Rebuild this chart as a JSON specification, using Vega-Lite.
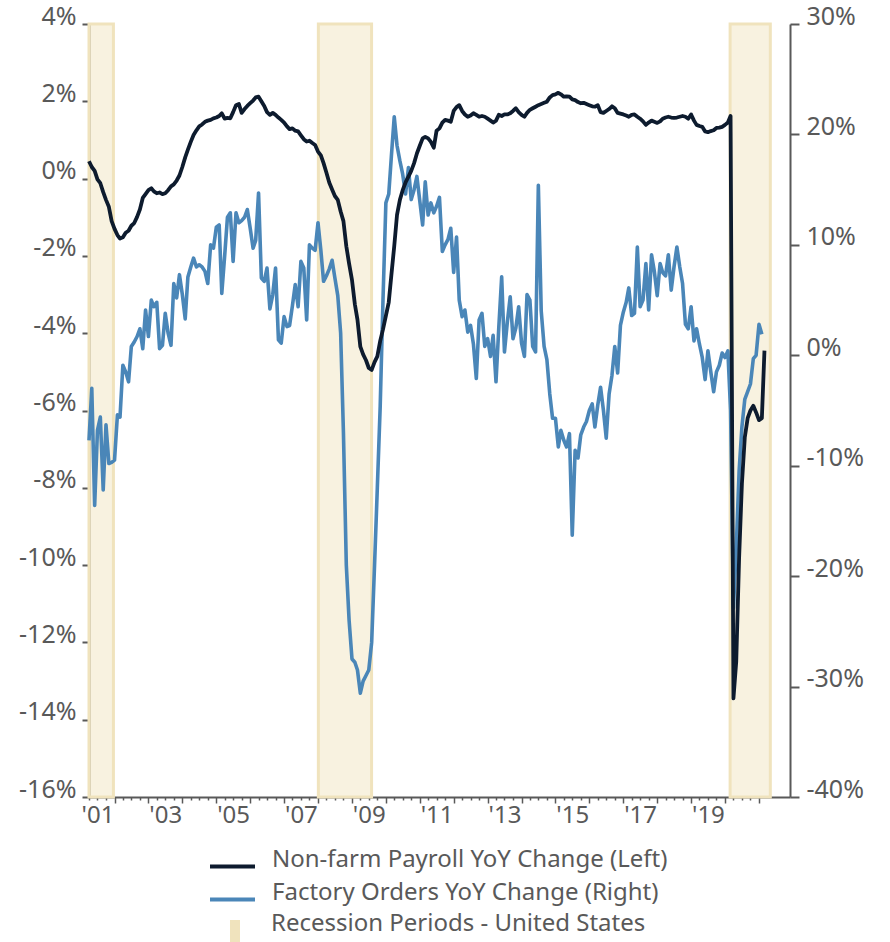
{
  "$schema": "https://vega.github.io/schema/vega-lite/v6.json",
  "width": 701,
  "height": 773,
  "autosize": {"type": "none"},
  "padding": {"left": 89, "top": 24, "right": 100, "bottom": 145},
  "background": "white",
  "config": {
    "view": {"stroke": null},
    "font": "Noto Sans",
    "axis": {"grid": false, "labelFont": "Noto Sans", "labelFontSize": 25, "labelColor": "#595959", "domainColor": "#595959", "domainWidth": 2, "tickColor": "#595959", "tickWidth": 2, "title": null},
    "legend": {"labelFont": "Noto Sans", "labelFontSize": 24, "labelColor": "#595959", "padding": 0, "title": null, "labelBaseline": "alphabetic", "direction": "vertical", "labelLimit": 0}
  },
  "datasets": {
    "rec": [
      {"date": "2001-04-01", "end": "2001-12-20", "label": "Recession Periods - United States"},
      {"date": "2008-01-05", "end": "2009-07-31", "label": "Recession Periods - United States"},
      {"date": "2020-02-25", "end": "2021-05-03", "label": "Recession Periods - United States"}
    ],
    "main": [
      {"date": "2001-04-01", "p": 0.45, "f": -7.7},
      {"date": "2001-05-01", "p": 0.30, "f": -3.0},
      {"date": "2001-06-01", "p": 0.20, "f": -13.6},
      {"date": "2001-07-01", "p": -0.02, "f": -6.8},
      {"date": "2001-08-01", "p": -0.12, "f": -5.6},
      {"date": "2001-09-01", "p": -0.35, "f": -12.2},
      {"date": "2001-10-01", "p": -0.55, "f": -6.3},
      {"date": "2001-11-01", "p": -0.73, "f": -9.8},
      {"date": "2001-12-01", "p": -1.10, "f": -9.7},
      {"date": "2002-01-01", "p": -1.30, "f": -9.5},
      {"date": "2002-02-01", "p": -1.46, "f": -5.4},
      {"date": "2002-03-01", "p": -1.55, "f": -5.6},
      {"date": "2002-04-01", "p": -1.52, "f": -0.9},
      {"date": "2002-05-01", "p": -1.40, "f": -1.5},
      {"date": "2002-06-01", "p": -1.35, "f": -2.4},
      {"date": "2002-07-01", "p": -1.22, "f": 0.8},
      {"date": "2002-08-01", "p": -1.15, "f": 1.2},
      {"date": "2002-09-01", "p": -0.99, "f": 1.7},
      {"date": "2002-10-01", "p": -0.80, "f": 2.4},
      {"date": "2002-11-01", "p": -0.50, "f": 0.6},
      {"date": "2002-12-01", "p": -0.40, "f": 4.1},
      {"date": "2003-01-01", "p": -0.30, "f": 1.7},
      {"date": "2003-02-01", "p": -0.25, "f": 5.0},
      {"date": "2003-03-01", "p": -0.33, "f": 4.4},
      {"date": "2003-04-01", "p": -0.38, "f": 4.8},
      {"date": "2003-05-01", "p": -0.36, "f": 0.6},
      {"date": "2003-06-01", "p": -0.40, "f": 0.9},
      {"date": "2003-07-01", "p": -0.38, "f": 3.8},
      {"date": "2003-08-01", "p": -0.30, "f": 2.0},
      {"date": "2003-09-01", "p": -0.20, "f": 0.9},
      {"date": "2003-10-01", "p": -0.15, "f": 6.5},
      {"date": "2003-11-01", "p": -0.05, "f": 5.2},
      {"date": "2003-12-01", "p": 0.08, "f": 7.3},
      {"date": "2004-01-01", "p": 0.30, "f": 5.5},
      {"date": "2004-02-01", "p": 0.55, "f": 3.3},
      {"date": "2004-03-01", "p": 0.75, "f": 7.1},
      {"date": "2004-04-01", "p": 0.95, "f": 8.0},
      {"date": "2004-05-01", "p": 1.13, "f": 8.8},
      {"date": "2004-06-01", "p": 1.25, "f": 8.0},
      {"date": "2004-07-01", "p": 1.35, "f": 8.2},
      {"date": "2004-08-01", "p": 1.40, "f": 8.0},
      {"date": "2004-09-01", "p": 1.47, "f": 7.6},
      {"date": "2004-10-01", "p": 1.50, "f": 6.5},
      {"date": "2004-11-01", "p": 1.52, "f": 10.0},
      {"date": "2004-12-01", "p": 1.56, "f": 9.7},
      {"date": "2005-01-01", "p": 1.58, "f": 11.6},
      {"date": "2005-02-01", "p": 1.62, "f": 11.8},
      {"date": "2005-03-01", "p": 1.69, "f": 5.6},
      {"date": "2005-04-01", "p": 1.55, "f": 9.0},
      {"date": "2005-05-01", "p": 1.57, "f": 12.5},
      {"date": "2005-06-01", "p": 1.56, "f": 12.9},
      {"date": "2005-07-01", "p": 1.72, "f": 8.5},
      {"date": "2005-08-01", "p": 1.90, "f": 12.9},
      {"date": "2005-09-01", "p": 1.93, "f": 12.0},
      {"date": "2005-10-01", "p": 1.70, "f": 12.2},
      {"date": "2005-11-01", "p": 1.80, "f": 12.5},
      {"date": "2005-12-01", "p": 1.88, "f": 13.2},
      {"date": "2006-01-01", "p": 1.95, "f": 11.5},
      {"date": "2006-02-01", "p": 2.02, "f": 9.7},
      {"date": "2006-03-01", "p": 2.10, "f": 10.4},
      {"date": "2006-04-01", "p": 2.12, "f": 14.7},
      {"date": "2006-05-01", "p": 2.00, "f": 7.0},
      {"date": "2006-06-01", "p": 1.88, "f": 6.7},
      {"date": "2006-07-01", "p": 1.72, "f": 7.9},
      {"date": "2006-08-01", "p": 1.65, "f": 4.2},
      {"date": "2006-09-01", "p": 1.70, "f": 5.5},
      {"date": "2006-10-01", "p": 1.65, "f": 7.9},
      {"date": "2006-11-01", "p": 1.58, "f": 1.4},
      {"date": "2006-12-01", "p": 1.52, "f": 1.1},
      {"date": "2007-01-01", "p": 1.45, "f": 3.5},
      {"date": "2007-02-01", "p": 1.35, "f": 2.6},
      {"date": "2007-03-01", "p": 1.28, "f": 2.7},
      {"date": "2007-04-01", "p": 1.30, "f": 4.5},
      {"date": "2007-05-01", "p": 1.24, "f": 6.4},
      {"date": "2007-06-01", "p": 1.22, "f": 4.4},
      {"date": "2007-07-01", "p": 1.12, "f": 8.5},
      {"date": "2007-08-01", "p": 1.02, "f": 7.9},
      {"date": "2007-09-01", "p": 0.96, "f": 3.2},
      {"date": "2007-10-01", "p": 0.98, "f": 10.0},
      {"date": "2007-11-01", "p": 0.92, "f": 9.7},
      {"date": "2007-12-01", "p": 0.87, "f": 9.5},
      {"date": "2008-01-01", "p": 0.70, "f": 12.0},
      {"date": "2008-02-01", "p": 0.60, "f": 9.5},
      {"date": "2008-03-01", "p": 0.40, "f": 6.7},
      {"date": "2008-04-01", "p": 0.15, "f": 7.2},
      {"date": "2008-05-01", "p": -0.10, "f": 7.8},
      {"date": "2008-06-01", "p": -0.28, "f": 8.6},
      {"date": "2008-07-01", "p": -0.45, "f": 7.0},
      {"date": "2008-08-01", "p": -0.55, "f": 5.4},
      {"date": "2008-09-01", "p": -0.85, "f": 2.0},
      {"date": "2008-10-01", "p": -1.10, "f": -7.0},
      {"date": "2008-11-01", "p": -1.75, "f": -19.0},
      {"date": "2008-12-01", "p": -2.20, "f": -24.0},
      {"date": "2009-01-01", "p": -2.62, "f": -27.5},
      {"date": "2009-02-01", "p": -3.25, "f": -27.8},
      {"date": "2009-03-01", "p": -3.65, "f": -28.5},
      {"date": "2009-04-01", "p": -4.35, "f": -30.6},
      {"date": "2009-05-01", "p": -4.55, "f": -29.5},
      {"date": "2009-06-01", "p": -4.70, "f": -29.0},
      {"date": "2009-07-01", "p": -4.90, "f": -28.5},
      {"date": "2009-08-01", "p": -4.95, "f": -26.0},
      {"date": "2009-09-01", "p": -4.75, "f": -19.0},
      {"date": "2009-10-01", "p": -4.60, "f": -12.0},
      {"date": "2009-11-01", "p": -4.20, "f": -4.6},
      {"date": "2009-12-01", "p": -3.90, "f": 5.0},
      {"date": "2010-01-01", "p": -3.55, "f": 13.8},
      {"date": "2010-02-01", "p": -3.20, "f": 14.6},
      {"date": "2010-03-01", "p": -2.50, "f": 18.0},
      {"date": "2010-04-01", "p": -1.75, "f": 21.6},
      {"date": "2010-05-01", "p": -0.94, "f": 19.0},
      {"date": "2010-06-01", "p": -0.55, "f": 17.6},
      {"date": "2010-07-01", "p": -0.30, "f": 16.4},
      {"date": "2010-08-01", "p": -0.10, "f": 14.6},
      {"date": "2010-09-01", "p": 0.05, "f": 17.0},
      {"date": "2010-10-01", "p": 0.20, "f": 14.1},
      {"date": "2010-11-01", "p": 0.40, "f": 15.0},
      {"date": "2010-12-01", "p": 0.65, "f": 16.2},
      {"date": "2011-01-01", "p": 0.85, "f": 14.0},
      {"date": "2011-02-01", "p": 1.04, "f": 11.8},
      {"date": "2011-03-01", "p": 1.08, "f": 15.7},
      {"date": "2011-04-01", "p": 1.04, "f": 12.7},
      {"date": "2011-05-01", "p": 0.95, "f": 13.8},
      {"date": "2011-06-01", "p": 0.80, "f": 12.9},
      {"date": "2011-07-01", "p": 1.24, "f": 13.5},
      {"date": "2011-08-01", "p": 1.30, "f": 14.3},
      {"date": "2011-09-01", "p": 1.45, "f": 9.4},
      {"date": "2011-10-01", "p": 1.52, "f": 10.0},
      {"date": "2011-11-01", "p": 1.50, "f": 10.5},
      {"date": "2011-12-01", "p": 1.47, "f": 11.5},
      {"date": "2012-01-01", "p": 1.75, "f": 7.5},
      {"date": "2012-02-01", "p": 1.85, "f": 10.7},
      {"date": "2012-03-01", "p": 1.90, "f": 5.0},
      {"date": "2012-04-01", "p": 1.75, "f": 3.5},
      {"date": "2012-05-01", "p": 1.66, "f": 4.1},
      {"date": "2012-06-01", "p": 1.60, "f": 2.1},
      {"date": "2012-07-01", "p": 1.63, "f": 2.7},
      {"date": "2012-08-01", "p": 1.69, "f": 1.0},
      {"date": "2012-09-01", "p": 1.65, "f": -2.1},
      {"date": "2012-10-01", "p": 1.60, "f": 3.2},
      {"date": "2012-11-01", "p": 1.62, "f": 3.8},
      {"date": "2012-12-01", "p": 1.60, "f": 0.8},
      {"date": "2013-01-01", "p": 1.55, "f": 1.5},
      {"date": "2013-02-01", "p": 1.50, "f": -0.1},
      {"date": "2013-03-01", "p": 1.45, "f": 1.8},
      {"date": "2013-04-01", "p": 1.50, "f": -2.4},
      {"date": "2013-05-01", "p": 1.65, "f": 2.5},
      {"date": "2013-06-01", "p": 1.62, "f": 7.1},
      {"date": "2013-07-01", "p": 1.66, "f": 0.3},
      {"date": "2013-08-01", "p": 1.66, "f": 3.0},
      {"date": "2013-09-01", "p": 1.69, "f": 5.3},
      {"date": "2013-10-01", "p": 1.75, "f": 1.5},
      {"date": "2013-11-01", "p": 1.82, "f": 2.5},
      {"date": "2013-12-01", "p": 1.72, "f": 4.4},
      {"date": "2014-01-01", "p": 1.65, "f": 1.1},
      {"date": "2014-02-01", "p": 1.60, "f": -0.1},
      {"date": "2014-03-01", "p": 1.70, "f": 5.5},
      {"date": "2014-04-01", "p": 1.78, "f": 5.0},
      {"date": "2014-05-01", "p": 1.82, "f": 0.8},
      {"date": "2014-06-01", "p": 1.86, "f": 0.3},
      {"date": "2014-07-01", "p": 1.90, "f": 15.4},
      {"date": "2014-08-01", "p": 1.93, "f": 4.0},
      {"date": "2014-09-01", "p": 1.96, "f": 0.8},
      {"date": "2014-10-01", "p": 1.99, "f": -0.4},
      {"date": "2014-11-01", "p": 2.10, "f": -3.5},
      {"date": "2014-12-01", "p": 2.16, "f": -5.7},
      {"date": "2015-01-01", "p": 2.18, "f": -5.7},
      {"date": "2015-02-01", "p": 2.22, "f": -8.3},
      {"date": "2015-03-01", "p": 2.18, "f": -6.8},
      {"date": "2015-04-01", "p": 2.12, "f": -7.7},
      {"date": "2015-05-01", "p": 2.13, "f": -8.3},
      {"date": "2015-06-01", "p": 2.12, "f": -7.1},
      {"date": "2015-07-01", "p": 2.05, "f": -16.3},
      {"date": "2015-08-01", "p": 2.03, "f": -8.6},
      {"date": "2015-09-01", "p": 1.98, "f": -9.3},
      {"date": "2015-10-01", "p": 1.95, "f": -7.2},
      {"date": "2015-11-01", "p": 1.96, "f": -6.5},
      {"date": "2015-12-01", "p": 1.93, "f": -6.0},
      {"date": "2016-01-01", "p": 1.90, "f": -5.0},
      {"date": "2016-02-01", "p": 1.87, "f": -4.4},
      {"date": "2016-03-01", "p": 1.86, "f": -6.5},
      {"date": "2016-04-01", "p": 1.90, "f": -4.5},
      {"date": "2016-05-01", "p": 1.72, "f": -2.9},
      {"date": "2016-06-01", "p": 1.70, "f": -5.0},
      {"date": "2016-07-01", "p": 1.75, "f": -7.5},
      {"date": "2016-08-01", "p": 1.80, "f": -3.5},
      {"date": "2016-09-01", "p": 1.87, "f": -1.8},
      {"date": "2016-10-01", "p": 1.82, "f": 0.8},
      {"date": "2016-11-01", "p": 1.70, "f": -1.6},
      {"date": "2016-12-01", "p": 1.68, "f": 2.7},
      {"date": "2017-01-01", "p": 1.66, "f": 3.9},
      {"date": "2017-02-01", "p": 1.63, "f": 4.8},
      {"date": "2017-03-01", "p": 1.60, "f": 6.1},
      {"date": "2017-04-01", "p": 1.65, "f": 3.6},
      {"date": "2017-05-01", "p": 1.66, "f": 3.8},
      {"date": "2017-06-01", "p": 1.60, "f": 9.8},
      {"date": "2017-07-01", "p": 1.55, "f": 4.4},
      {"date": "2017-08-01", "p": 1.48, "f": 5.0},
      {"date": "2017-09-01", "p": 1.39, "f": 8.3},
      {"date": "2017-10-01", "p": 1.45, "f": 4.1},
      {"date": "2017-11-01", "p": 1.50, "f": 9.1},
      {"date": "2017-12-01", "p": 1.47, "f": 7.6},
      {"date": "2018-01-01", "p": 1.44, "f": 5.4},
      {"date": "2018-02-01", "p": 1.48, "f": 8.3},
      {"date": "2018-03-01", "p": 1.55, "f": 7.5},
      {"date": "2018-04-01", "p": 1.58, "f": 7.2},
      {"date": "2018-05-01", "p": 1.60, "f": 9.1},
      {"date": "2018-06-01", "p": 1.58, "f": 5.9},
      {"date": "2018-07-01", "p": 1.57, "f": 8.0},
      {"date": "2018-08-01", "p": 1.58, "f": 9.8},
      {"date": "2018-09-01", "p": 1.60, "f": 8.0},
      {"date": "2018-10-01", "p": 1.62, "f": 6.5},
      {"date": "2018-11-01", "p": 1.60, "f": 2.8},
      {"date": "2018-12-01", "p": 1.55, "f": 2.4},
      {"date": "2019-01-01", "p": 1.66, "f": 4.4},
      {"date": "2019-02-01", "p": 1.50, "f": 1.3},
      {"date": "2019-03-01", "p": 1.39, "f": 2.4},
      {"date": "2019-04-01", "p": 1.36, "f": 1.0},
      {"date": "2019-05-01", "p": 1.34, "f": -0.2},
      {"date": "2019-06-01", "p": 1.22, "f": -2.2},
      {"date": "2019-07-01", "p": 1.20, "f": 0.4},
      {"date": "2019-08-01", "p": 1.23, "f": -1.5},
      {"date": "2019-09-01", "p": 1.25, "f": -3.3},
      {"date": "2019-10-01", "p": 1.31, "f": -1.5},
      {"date": "2019-11-01", "p": 1.32, "f": -0.9},
      {"date": "2019-12-01", "p": 1.34, "f": 0.2},
      {"date": "2020-01-01", "p": 1.39, "f": -0.2},
      {"date": "2020-02-01", "p": 1.45, "f": 0.4},
      {"date": "2020-03-01", "p": 1.62, "f": -5.0},
      {"date": "2020-04-01", "p": -13.45, "f": -22.9},
      {"date": "2020-05-01", "p": -12.5, "f": -17.5},
      {"date": "2020-06-01", "p": -9.8, "f": -10.5},
      {"date": "2020-07-01", "p": -7.9, "f": -6.5},
      {"date": "2020-08-01", "p": -6.7, "f": -4.0},
      {"date": "2020-09-01", "p": -6.2, "f": -3.3},
      {"date": "2020-10-01", "p": -6.0, "f": -2.6},
      {"date": "2020-11-01", "p": -5.88, "f": -0.3},
      {"date": "2020-12-01", "p": -6.05, "f": 0.0},
      {"date": "2021-01-01", "p": -6.25, "f": 2.8},
      {"date": "2021-02-01", "p": -6.2, "f": 1.9},
      {"date": "2021-03-01", "p": -4.45, "f": null}
    ]
  },
  "encoding": {
    "x": {
      "field": "date",
      "type": "temporal",
      "scale": {"type": "utc", "domain": [{"year": 2001, "month": 4, "date": 1, "utc": true}, {"year": 2021, "month": 12, "date": 1, "utc": true}]},
      "axis": {
        "tickCount": {"interval": "month", "step": 3},
        "labelExpr": "utcmonth(datum.value) == 6 && utcyear(datum.value) % 2 == 1 && utcyear(datum.value) < 2020 ? utcFormat(datum.value, \"'%y\") : ''",
        "labelOverlap": false,
        "labelFlush": false,
        "labelBound": false,
        "labelPadding": 3,
        "labelFontSize": 24,
        "tickSize": {"condition": {"test": "utcmonth(datum.value) == 0", "value": 6}, "value": 3},
        "tickOpacity": {"condition": {"test": "datum.value > utc(2021, 0, 15)", "value": 0}, "value": 1},
        "tickWidth": 1.5,
        "title": null
      }
    }
  },
  "layer": [
    {
      "data": {"name": "rec"},
      "mark": {"type": "rect", "fillOpacity": 0.47, "stroke": "#f0e3bd", "strokeWidth": 3},
      "encoding": {
        "x2": {"field": "end"},
        "fill": {
          "field": "label",
          "type": "nominal",
          "scale": {"range": ["#f0e3bd"]},
          "legend": {
            "orient": "none",
            "legendX": 134,
            "legendY": 895,
            "symbolType": "M-0.4545,-1L0.4545,-1L0.4545,1L-0.4545,1Z",
            "symbolSize": 484,
            "symbolStrokeWidth": 0,
            "symbolOpacity": 1,
            "labelOffset": 24
          }
        }
      }
    },
    {
      "data": {"name": "main"},
      "mark": {"type": "line", "strokeWidth": 3.6, "strokeJoin": "round"},
      "encoding": {
        "y": {
          "field": "f",
          "type": "quantitative",
          "scale": {"domain": [-40, 30], "nice": false, "zero": false},
          "axis": {"orient": "right", "values": [-40, -30, -20, -10, 0, 10, 20, 30], "labelExpr": "datum.value + '%'", "tickSize": 9, "labelPadding": 7, "labelBaseline": "alphabetic", "title": null}
        },
        "color": {
          "datum": "Factory Orders YoY Change (Right)",
          "type": "nominal",
          "scale": {"domain": ["Non-farm Payroll YoY Change (Left)", "Factory Orders YoY Change (Right)"], "range": ["#0d1b2e", "#4a86b8"]},
          "legend": {
            "orient": "none",
            "legendX": 119,
            "legendY": 818,
            "symbolType": "stroke",
            "symbolSize": 2025,
            "symbolStrokeWidth": 4,
            "labelOffset": 15,
            "rowPadding": -2.5
          }
        }
      }
    },
    {
      "data": {"name": "main"},
      "mark": {"type": "line", "strokeWidth": 3.8, "strokeJoin": "round"},
      "encoding": {
        "y": {
          "field": "p",
          "type": "quantitative",
          "scale": {"domain": [-16, 4], "nice": false, "zero": false},
          "axis": {"orient": "left", "values": [-16, -14, -12, -10, -8, -6, -4, -2, 0, 2, 4], "labelExpr": "datum.value + '%'", "tickSize": 7, "labelPadding": 6, "labelBaseline": "alphabetic", "title": null}
        },
        "color": {
          "datum": "Non-farm Payroll YoY Change (Left)",
          "type": "nominal"
        }
      }
    }
  ],
  "resolve": {"scale": {"y": "independent"}}
}
